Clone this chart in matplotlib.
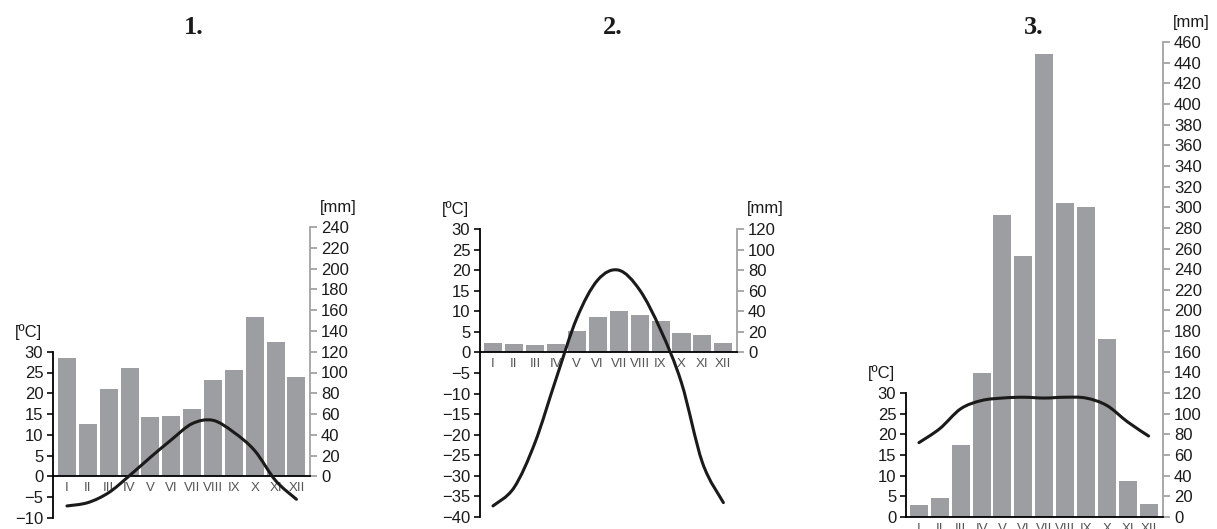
import numpy as np
import matplotlib
matplotlib.use("Agg")
import matplotlib.pyplot as plt
from matplotlib.path import Path
from matplotlib.patches import PathPatch

plt.rcParams['font.family'] = ['Liberation Sans', 'DejaVu Sans']

months = ['I', 'II', 'III', 'IV', 'V', 'VI', 'VII', 'VIII', 'IX', 'X', 'XI', 'XII']

# climate 1
temp1 = [-7.1, -6.3, -3.9, 0.2, 4.6, 8.8, 12.7, 13.5, 10.6, 6.2, -1.0, -5.5]
prec1 = [114, 50, 84, 104, 57, 58, 65, 93, 102, 153, 129, 96]

# climate 2
temp2 = [-37.3, -32.9, -22.0, -6.6, 8.3, 17.6, 20.0, 15.2, 5.5, -7.4, -26.8, -36.5]
prec2 = [9.4, 8.4, 7.4, 8.4, 21, 34, 40.4, 36.6, 30.7, 19, 17, 9.4]

# climate 3
temp3 = [18.0, 21.4, 26.2, 28.2, 28.8, 29.0, 28.8, 29.0, 28.8, 27.0, 23.0, 19.6]
prec3 = [12, 18.7, 70, 139.7, 292, 253, 448, 304, 300, 172, 34.5, 13]

W, H = 1217, 529
BAR = '#9d9ea2'
GREY = '#a3a3a3'

fig = plt.figure(figsize=(W / 100, H / 100), dpi=100)


def smooth_path(xs, ys):
    # catmull-rom -> bezier, so the line bends like the printed one
    p = np.column_stack([xs, ys]).astype(float)
    p = np.vstack([p[0], p, p[-1]])
    verts = [p[1]]
    codes = [Path.MOVETO]
    for i in range(1, len(p) - 2):
        c1 = p[i] + (p[i + 1] - p[i - 1]) / 6
        c2 = p[i + 1] - (p[i + 2] - p[i]) / 6
        verts += [c1, c2, p[i + 1]]
        codes += [Path.CURVE4] * 3
    return Path(verts, codes)


def climate(left, right, top, bottom, tlim, tbounds, mmtop, temp, prec, xl, xr):
    ax = fig.add_axes([left / W, 1 - bottom / H, (right - left) / W, (bottom - top) / H])
    ax2 = ax.twinx()
    ax.set_zorder(ax2.get_zorder() + 1)
    ax.patch.set_visible(False)

    x = np.arange(12)
    ax2.bar(x, prec, width=0.86, color=BAR, zorder=1)
    ax.add_patch(PathPatch(smooth_path(x, temp), fill=False, lw=2.2,
                           edgecolor='#1a1a1a', capstyle='round', zorder=4))

    ax.set_xlim(xl, xr)
    ax.set_ylim(*tlim)
    ax2.set_ylim(tlim[0] * 4, tlim[1] * 4)

    # temperature axis
    for s in ['top', 'right']:
        ax.spines[s].set_visible(False)
    ax.spines['left'].set_bounds(*tbounds)
    ax.spines['left'].set_linewidth(1.3)
    ax.spines['bottom'].set_position(('data', 0))
    ax.spines['bottom'].set_linewidth(1.3)
    ax.set_yticks(np.arange(tbounds[0], tbounds[1] + 1, 5))
    ax.set_yticklabels([str(v).replace('-', '\u2212') for v in range(tbounds[0], tbounds[1] + 1, 5)])
    ax.tick_params(axis='y', direction='out', length=4, width=1.3, pad=3,
                   labelsize=12, colors='#1a1a1a')
    ax.set_xticks(x)
    ax.set_xticklabels(months, fontsize=9.5, color='#555555',
                       family=['Liberation Sans Narrow', 'Liberation Sans'])
    ax.tick_params(axis='x', length=0, pad=4)

    # precipitation axis
    for s in ['top', 'left', 'bottom']:
        ax2.spines[s].set_visible(False)
    ax2.spines['right'].set_bounds(0, mmtop)
    ax2.spines['right'].set_color(GREY)
    ax2.spines['right'].set_linewidth(1.3)
    ax2.set_yticks(np.arange(0, mmtop + 1, 20))
    ax2.tick_params(axis='y', direction='out', length=5, width=1.3, pad=3,
                    labelsize=12, color=GREY, labelcolor='#1a1a1a')

    ax.annotate('[ºC]', xy=(0, tbounds[1]), xycoords=('axes fraction', 'data'),
                xytext=(-11, 20), textcoords='offset pixels', ha='right', va='center',
                fontsize=12, color='#1a1a1a')
    ax2.annotate('[mm]', xy=(1, mmtop), xycoords=('axes fraction', 'data'),
                 xytext=(10, 20), textcoords='offset pixels', ha='left', va='center',
                 fontsize=12, color='#1a1a1a')
    return ax


climate(53, 310, 227, 518, (-10, 60), (-10, 30), 240, temp1, prec1, -0.67, 11.65)
climate(480, 737, 229, 517, (-40, 30), (-40, 30), 120, temp2, prec2, -0.62, 11.65)
climate(906, 1163, 42, 517, (0, 115), (0, 30), 460, temp3, prec3, -0.62, 11.69)

for label, xp in [('1.', 194), ('2.', 613), ('3.', 1034)]:
    fig.text(xp / W, 1 - 27 / H, label, ha='center', va='center', fontsize=19,
             fontweight='bold', family=['Liberation Serif', 'DejaVu Serif'], color='#1a1a1a')

fig.savefig('out.png', dpi=100)
